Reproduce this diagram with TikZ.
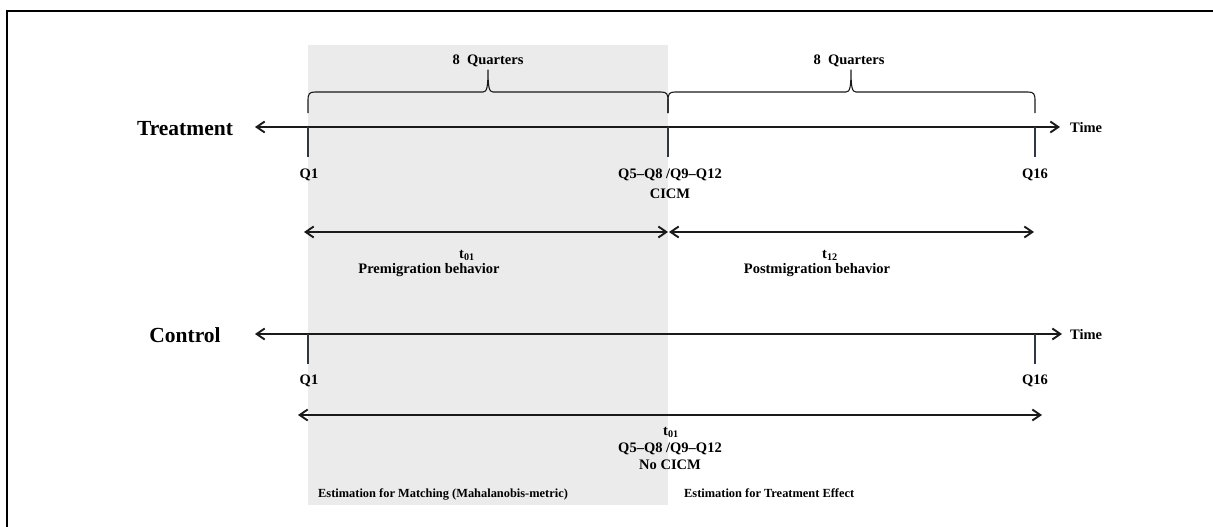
\documentclass[tikz,border=0pt]{standalone}
\usepackage{fontspec}
\setmainfont{Liberation Serif}
\usetikzlibrary{arrows.meta}
\definecolor{bandgray}{HTML}{EBEBEB}
\definecolor{tickcol}{HTML}{2E3843}
\definecolor{inkcol}{HTML}{1A1A1A}

\begin{document}
\begin{tikzpicture}[x=1pt,y=-1pt,
  barb/.tip={Straight Barb[length=8pt,width=11pt,line width=1.9pt]},
  grouplabel/.style={font=\fontsize{21.5}{24}\selectfont\bfseries, inner sep=0pt, anchor=base},
  quarter/.style={font=\fontsize{14.5}{17}\selectfont\bfseries, inner sep=0pt, anchor=base},
  subtag/.style={font=\fontsize{14.5}{17}\selectfont\bfseries, inner sep=0pt, anchor=base west},
  note/.style={font=\fontsize{12.4}{14}\selectfont\bfseries, inner sep=0pt, anchor=base west},
  timeline/.style={line width=1.4pt, draw=inkcol, barb-barb},
  tick/.style={line width=1.3pt, draw=tickcol},
  bracepath/.style={line width=1.1pt, draw=inkcol, line join=round},
]
\useasboundingbox (0,0) rectangle (1213,527);

% shaded pre-period band
\fill[bandgray] (308,45) rectangle (668,505);

% outer frame (left and top edges)
\draw[line width=2.6pt] (7,540) -- (7,11) -- (1230,11);

% ---------------- treatment group ----------------
\node[grouplabel] (trt) at (185,135) {Treatment};
\coordinate (tA) at (255,127);
\coordinate (tB) at (1060,127);
\draw[timeline] (tA) -- (tB);
\node[quarter, anchor=base west] (ttime) at (1070,132) {Time};

\coordinate (tq1) at (308,127);
\coordinate (tqm) at (668,127);
\coordinate (tq16) at (1035,127);
\draw[tick] (tq1) -- ++(0,30);
\draw[tick] (tqm) -- ++(0,30);
\draw[tick] (tq16) -- ++(0,30);

\node[quarter] (tlq1) at (309,178) {Q1};
\node[quarter] (tlqm) at (670,178) {Q5--Q8 /Q9--Q12};
\node[quarter] (tlcicm) at (670,198) {CICM};
\node[quarter] (tlq16) at (1035,178) {Q16};

% braces over the two eight-quarter windows
\draw[bracepath] (308,113) -- (308,101) .. controls (308,94) and (309,92) .. (315,92)
  -- (483,92) .. controls (487,92) and (488,87) .. (488,70)
  .. controls (488,87) and (489,92) .. (493,92)
  -- (661,92) .. controls (667,92) and (668,94) .. (668,101) -- (668,113);
\draw[bracepath] (668,113) -- (668,101) .. controls (668,94) and (669,92) .. (675,92)
  -- (846,92) .. controls (850,92) and (851,87) .. (851,70)
  .. controls (851,87) and (852,92) .. (856,92)
  -- (1028,92) .. controls (1034,92) and (1035,94) .. (1035,101) -- (1035,113);
\node[quarter] (bq1) at (488,64) {8\ \ Quarters};
\node[quarter] (bq2) at (849,64) {8\ \ Quarters};

% pre and post windows
\coordinate (pA) at (304,232);
\coordinate (pB) at (668,232);
\coordinate (qA) at (669,232);
\coordinate (qB) at (1034,232);
\draw[timeline] (pA) -- (pB);
\draw[timeline] (qA) -- (qB);
\node[subtag] (t01) at (459,258) {t\textsubscript{01}};
\node[quarter] (pre) at (429,273) {Premigration behavior};
\node[subtag] (t12) at (822,258) {t\textsubscript{12}};
\node[quarter] (post) at (817,273) {Postmigration behavior};

% ---------------- control group ----------------
\node[grouplabel] (ctl) at (185,342) {Control};
\coordinate (cA) at (255,334);
\coordinate (cB) at (1062,334);
\draw[timeline] (cA) -- (cB);
\node[quarter, anchor=base west] (ctime) at (1070,339) {Time};

\coordinate (cq1) at (308,334);
\coordinate (cq16) at (1035,334);
\draw[tick] (cq1) -- ++(0,30);
\draw[tick] (cq16) -- ++(0,30);
\node[quarter] (clq1) at (309,384) {Q1};
\node[quarter] (clq16) at (1035,384) {Q16};

\coordinate (sA) at (298,415);
\coordinate (sB) at (1042,415);
\draw[timeline] (sA) -- (sB);
\node[subtag] (ct01) at (663,435) {t\textsubscript{01}};
\node[quarter] (clqm) at (670,452) {Q5--Q8 /Q9--Q12};
\node[quarter] (cno) at (670,469) {No CICM};

% estimation windows
\node[note] (match) at (318,497) {Estimation for Matching (Mahalanobis-metric)};
\node[note] (effect) at (684,497) {Estimation for Treatment Effect};
\end{tikzpicture}
\end{document}
